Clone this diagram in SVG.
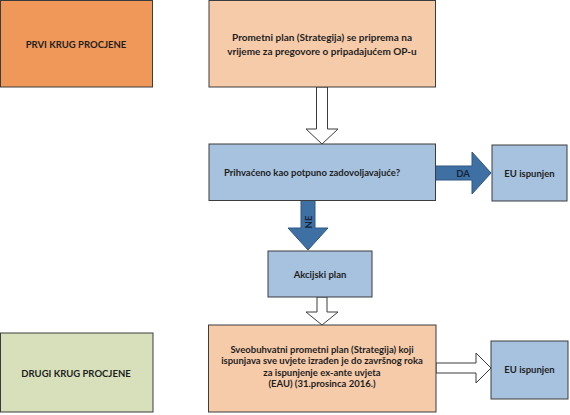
<svg xmlns="http://www.w3.org/2000/svg" width="570" height="415" viewBox="0 0 570 415">
<style>
.box{stroke:#3c3c3c;stroke-width:1}
.orange{fill:#F0985A}
.peach{fill:#F6CBAA}
.blue{fill:#A6C2DE}
.green{fill:#D7E0BB}
.hollow{fill:#ffffff;stroke:#3c3c3c;stroke-width:1;stroke-linejoin:miter}
.solid{fill:#3F70A3;stroke:#2E5682;stroke-width:1}
text{font-family:Lato,"Liberation Sans",sans-serif;font-weight:bold;fill:#1e1e1e;text-anchor:middle}
.t10{font-size:10px}
.t9{font-size:9.5px}
.lbl{font-size:9.5px;fill:#14243a}
</style>
<rect width="570" height="415" fill="#ffffff"/>
<g id="connectors">
<polygon class="hollow" points="316.5,87 327.5,87 327.5,129 338,129 322,144 306,129 316.5,129"/>
<polygon class="solid" points="435.5,166 472,166 472,152 491,173 472,194 472,180 435.5,180"/>
<text class="lbl" x="463" y="176.5">DA</text>
<polygon class="solid" points="301,200.5 315,200.5 315,228 328,228 308,250 288,228 301,228"/>
<text class="lbl" transform="translate(311.5,222) rotate(-90)" x="0" y="0">NE</text>
<polygon class="hollow" points="317,297 327,297 327,312 338,312 322,325 306,312 317,312"/>
<polygon class="hollow" points="436,363 476,363 476,353 491,368 476,383 476,373 436,373"/>
</g>
<g id="prvi">
<rect class="box orange" x="0.5" y="0.5" width="152" height="86.5"/>
<text class="t9" x="76" y="47.5">PRVI KRUG PROCJENE</text>
</g>
<g id="prometni">
<rect class="box peach" x="209" y="0.5" width="226.5" height="86.5"/>
<text class="t10" x="322" y="40.5">Prometni plan (Strategija) se priprema na</text>
<text class="t10" x="322" y="54.5">vrijeme za pregovore o pripadajućem OP-u</text>
</g>
<g id="prihvaceno">
<rect class="box blue" x="209" y="144" width="226.5" height="56.5"/>
<text class="t9" x="312" y="175.5">Prihvaćeno kao potpuno zadovoljavajuće?</text>
</g>
<g id="eu1">
<rect class="box blue" x="492" y="145" width="75" height="56"/>
<text class="t9" x="529.5" y="176.5">EU ispunjen</text>
</g>
<g id="akcijski">
<rect class="box blue" x="268" y="251" width="104" height="46"/>
<text class="t9" x="320" y="277.5">Akcijski plan</text>
</g>
<g id="sveobuhvatni">
<rect class="box peach" x="208.5" y="325" width="227.5" height="87"/>
<text class="t9" x="322" y="352.5">Sveobuhvatni prometni plan (Strategija) koji</text>
<text class="t9" x="322" y="364">ispunjava sve uvjete izrađen je do završnog roka</text>
<text class="t9" x="322" y="375.5">za ispunjenje ex-ante uvjeta</text>
<text class="t9" x="322" y="387">(EAU) (31.prosinca 2016.)</text>
</g>
<g id="eu2">
<rect class="box blue" x="491" y="341" width="77" height="58"/>
<text class="t9" x="529.5" y="373">EU ispunjen</text>
</g>
<g id="drugi">
<rect class="box green" x="0.5" y="333" width="152.5" height="79"/>
<text class="t9" x="76" y="376.5">DRUGI KRUG PROCJENE</text>
</g>
</svg>
